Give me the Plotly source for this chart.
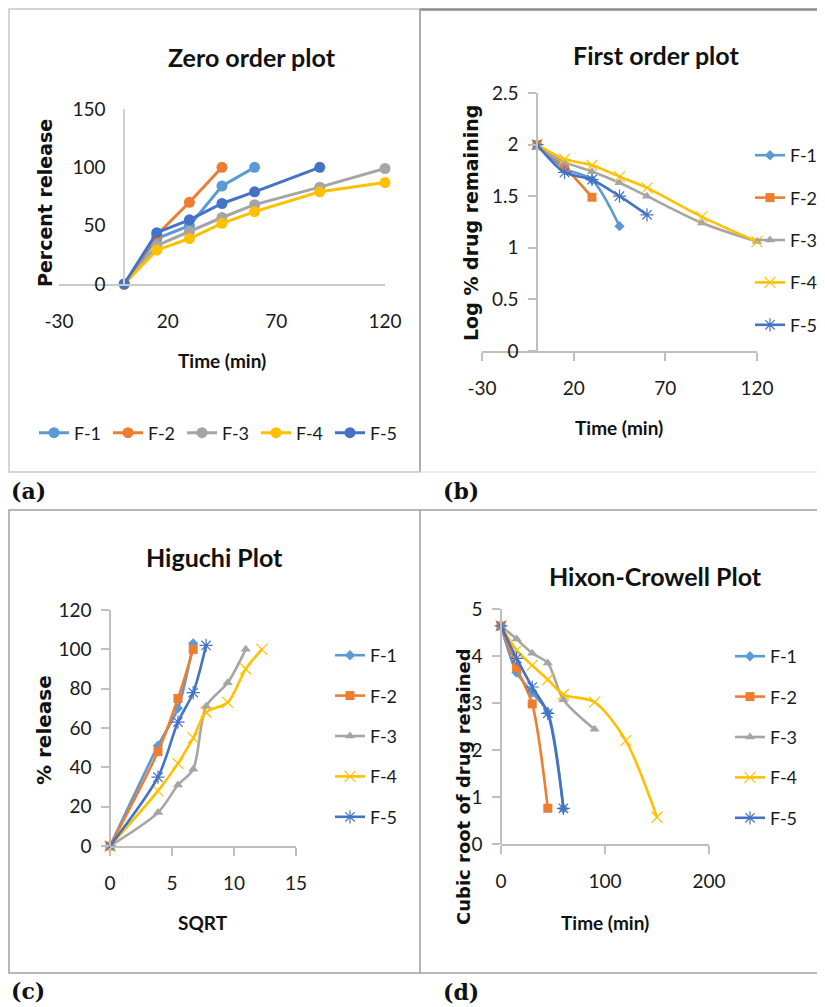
import plotly.graph_objects as go

# The page body adds an 8px margin, so the figure is drawn 8px smaller and
# every reference pixel position is shifted by that offset.
OFF = 8
W, H = 825 - OFF, 1007 - OFF


def px(x):
    return (x - OFF) / W


def py(y):
    return 1 - (y - OFF) / H


# ---------------- data ----------------
series_names = ["F-1", "F-2", "F-3", "F-4", "F-5"]
colors = ["#5B9BD5", "#ED7D31", "#A5A5A5", "#FFC000", "#4472C4"]

# (a) Zero order: percent release vs time (min)
zero_time = [0, 15, 30, 45, 60, 90, 120]
zero_f1 = [0, 39, 50, 84, 100]
zero_f2 = [0, 42, 70, 100]
zero_f3 = [0, 33, 45, 57, 68, 83, 99]
zero_f4 = [0, 29, 39, 52, 62, 79, 87]
zero_f5 = [0, 44, 55, 69, 79, 100]

# (b) First order: log % drug remaining vs time (min)
first_time = [0, 15, 30, 45, 60, 90, 120]
first_f1 = [2.0, 1.77, 1.66, 1.21]
first_f2 = [2.0, 1.78, 1.49]
first_f3 = [1.97, 1.83, 1.74, 1.63, 1.50, 1.24, 1.06]
first_f4 = [2.0, 1.86, 1.80, 1.69, 1.58, 1.30, 1.06]
first_f5 = [2.0, 1.73, 1.66, 1.50, 1.32]

# (c) Higuchi: % release vs SQRT(time)
sqrt_time = [0, 3.87, 5.48, 6.71, 7.75, 9.49, 10.95, 12.25]
hig_f1 = [0, 51, 70, 103]
hig_f2 = [0, 48, 75, 100]
hig_f3 = [0, 17, 31, 39, 71, 83, 100]
hig_f4 = [0, 28, 42, 55, 68, 73, 90, 100]
hig_f5 = [0, 35, 63, 78, 102]

# (d) Hixon-Crowell: cubic root of drug retained vs time (min)
hc_time = [0, 15, 30, 45, 60, 90, 120, 150]
hc_f1 = [4.64, 3.65, 3.22, 2.80, 0.75]
hc_f2 = [4.64, 3.75, 2.98, 0.76]
hc_f3 = [4.64, 4.36, 4.06, 3.85, 3.07, 2.44]
hc_f4 = [4.64, 4.12, 3.80, 3.50, 3.18, 3.02, 2.20, 0.57]
hc_f5 = [4.64, 3.95, 3.34, 2.78, 0.76]

# tick labels
zero_xticks = [-30, 20, 70, 120]
zero_xlabels = ["-30", "20", "70", "120"]
zero_yticks = [0, 50, 100, 150]
first_yticks = [0, 0.5, 1, 1.5, 2, 2.5]
hig_xticks = [0, 5, 10, 15]
hig_yticks = [0, 20, 40, 60, 80, 100, 120]
hc_xticks = [0, 100, 200]
hc_yticks = [0, 1, 2, 3, 4, 5]

NARROW = "Lato, sans-serif"
WIDE = "DejaVu Sans, Verdana, sans-serif"
SERIF = "DejaVu Serif, serif"
TXT = "#1a1a1a"

fig = go.Figure()

# ---- (a) ----
zero_sets = [zero_f1, zero_f2, zero_f3, zero_f4, zero_f5]
for i, vals in enumerate(zero_sets):
    fig.add_trace(go.Scatter(
        x=zero_time[:len(vals)], y=vals, name=series_names[i],
        mode="lines+markers", xaxis="x", yaxis="y", legend="legend",
        line=dict(color=colors[i], width=3),
        marker=dict(symbol="circle", size=11, color=colors[i]),
        cliponaxis=False,
    ))

markers_bcd = [
    dict(symbol="diamond", size=8),
    dict(symbol="square", size=9),
    dict(symbol="triangle-up", size=9),
    dict(symbol="x-thin-open", size=11, line=dict(width=1)),
    dict(symbol="asterisk-open", size=11, line=dict(width=1)),
]


def add_panel(xs, sets, xa, ya, leg, tag):
    for i, vals in enumerate(sets):
        m = dict(markers_bcd[i])
        m["color"] = colors[i]
        if "line" in m:
            m["line"] = dict(width=1.2, color=colors[i])
        fig.add_trace(go.Scatter(
            x=xs[:len(vals)], y=vals, name=series_names[i],
            mode="lines+markers", xaxis=xa, yaxis=ya, legend=leg,
            legendgroup=f"{tag}{i}",
            line=dict(color=colors[i], width=2.6, shape="spline", smoothing=0.8),
            marker=m, cliponaxis=False,
        ))


add_panel(first_time, [first_f1, first_f2, first_f3, first_f4, first_f5], "x2", "y2", "legend2", "b")
add_panel(sqrt_time, [hig_f1, hig_f2, hig_f3, hig_f4, hig_f5], "x3", "y3", "legend3", "c")
add_panel(hc_time, [hc_f1, hc_f2, hc_f3, hc_f4, hc_f5], "x4", "y4", "legend4", "d")

tickfont = dict(family=NARROW, size=19, color=TXT)


def xax(domain, rng, ticks, anchor, showticks, labels=None):
    d = dict(domain=domain, range=rng, tickvals=ticks, anchor=anchor,
             showgrid=False, zeroline=False, showline=True,
             linecolor="#C9C9C9" if not showticks else "#BFBFBF", linewidth=1.5,
             ticks="outside", ticklen=8,
             tickcolor="#BFBFBF" if showticks else "rgba(0,0,0,0)",
             tickwidth=1.5, tickfont=tickfont, ticklabelstandoff=11,
             fixedrange=True, automargin=False)
    if labels:
        d["ticktext"] = labels
    return d


def yax(domain, rng, ticks, pos, showticks):
    return dict(domain=domain, range=rng, tickvals=ticks, anchor="free", position=pos,
                showgrid=False, zeroline=False, showline=True,
                linecolor="#D0D0D0" if not showticks else "#BFBFBF", linewidth=1.5,
                ticks="outside", ticklen=8,
                tickcolor="#BFBFBF" if showticks else "rgba(0,0,0,0)",
                tickwidth=1.5, tickfont=tickfont, ticklabelstandoff=6,
                fixedrange=True, automargin=False)


legend_common = dict(font=dict(family=NARROW, size=18, color=TXT), bgcolor="rgba(0,0,0,0)",
                     itemclick=False, itemdoubleclick=False)

fig.update_layout(
    width=W, height=H, margin=dict(l=0, r=0, t=0, b=0, autoexpand=False),
    paper_bgcolor="white", plot_bgcolor="rgba(0,0,0,0)",
    xaxis=xax([px(59), px(385)], [-30, 120], zero_xticks, "y", False, zero_xlabels),
    yaxis=yax([py(284), py(109)], [0, 150], zero_yticks, px(124), False),
    xaxis2=xax([px(482), px(757)], [-30, 120], zero_xticks, "y2", True, zero_xlabels),
    yaxis2=yax([py(351), py(93)], [0, 2.5], first_yticks, px(537), True),
    xaxis3=xax([px(110), px(296)], [0, 15], hig_xticks, "y3", True),
    yaxis3=yax([py(846), py(610)], [0, 120], hig_yticks, px(110), True),
    xaxis4=xax([px(501), px(709)], [0, 200], hc_xticks, "y4", True),
    yaxis4=yax([py(844), py(609)], [0, 5], hc_yticks, px(501), True),
    legend=dict(legend_common, orientation="h", x=px(34), xanchor="left",
                y=py(433), yanchor="middle", entrywidth=29, entrywidthmode="pixels"),
    legend2=dict(legend_common, orientation="v", x=px(750), xanchor="left",
                 y=py(240), yanchor="middle", tracegroupgap=16, traceorder="grouped"),
    legend3=dict(legend_common, orientation="v", x=px(330), xanchor="left",
                 y=py(736), yanchor="middle", tracegroupgap=14, traceorder="grouped"),
    legend4=dict(legend_common, orientation="v", x=px(730), xanchor="left",
                 y=py(737), yanchor="middle", tracegroupgap=14, traceorder="grouped"),
)

# ---- panel borders ----
border = dict(color="#A0A0A0", width=1.5)
fig.add_shape(type="rect", xref="paper", yref="paper", x0=px(9), x1=px(420), y0=py(472), y1=py(9),
              line=dict(color="#C8C8C8", width=1.5), layer="below")
fig.add_shape(type="line", xref="paper", yref="paper", x0=px(420), x1=px(825), y0=py(9.5), y1=py(9.5),
              line=dict(color="#8A8A8A", width=2.5))
fig.add_shape(type="line", xref="paper", yref="paper", x0=px(420), x1=px(420), y0=py(472), y1=py(9),
              line=border)
fig.add_shape(type="line", xref="paper", yref="paper", x0=px(420), x1=px(825), y0=py(472), y1=py(472),
              line=dict(color="#D8D8D8", width=1))
fig.add_shape(type="rect", xref="paper", yref="paper", x0=px(9), x1=px(420), y0=py(973), y1=py(510),
              line=border, layer="below")
fig.add_shape(type="line", xref="paper", yref="paper", x0=px(420), x1=px(825), y0=py(510), y1=py(510),
              line=border)
fig.add_shape(type="line", xref="paper", yref="paper", x0=px(420), x1=px(825), y0=py(973), y1=py(973),
              line=border)


def text(x, y, s, size, family=NARROW, angle=0, bold=False, xanchor="center", color=TXT):
    fig.add_annotation(x=px(x), y=py(y), xref="paper", yref="paper", text=(f"<b>{s}</b>" if bold else s),
                       showarrow=False, textangle=angle, xanchor=xanchor, yanchor="middle",
                       font=dict(family=family, size=size, color=color))


# titles
text(252, 57, "Zero order plot", 25, bold=True, color="#111")
text(656, 55, "First order plot", 25, bold=True, color="#111")
text(214, 557, "Higuchi Plot", 25, bold=True, color="#111")
text(655, 576, "Hixon-Crowell Plot", 25, bold=True, color="#111")

# axis titles
text(45, 203, "Percent release", 19, family=WIDE, angle=-90, bold=True, color="#111")
text(222, 360, "Time (min)", 19, bold=True, color="#111")
text(471, 223, "Log % drug remaining", 19, family=WIDE, angle=-90, bold=True, color="#111")
text(619, 427, "Time (min)", 19, bold=True, color="#111")
text(44, 730, "% release", 20, family=WIDE, angle=-90, bold=True, color="#111")
text(203, 922, "SQRT", 19, bold=True, color="#111")
text(463, 787, "Cubic root of drug retained", 18, family=WIDE, angle=-90, bold=True, color="#111")
text(605, 922, "Time (min)", 19, bold=True, color="#111")

# panel labels
text(9, 491, "(a)", 22, family=SERIF, bold=True, xanchor="left", color="#111")
text(441, 491, "(b)", 22, family=SERIF, bold=True, xanchor="left", color="#111")
text(9, 991, "(c)", 22, family=SERIF, bold=True, xanchor="left", color="#111")
text(441, 992, "(d)", 22, family=SERIF, bold=True, xanchor="left", color="#111")

fig.write_html("out.html")
